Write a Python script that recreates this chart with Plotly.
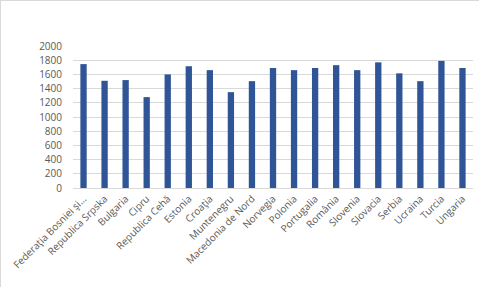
import plotly.graph_objects as go

categories = ["Federaţia Bosniei şi...", "Republica Srpska", "Bulgaria", "Cipru",
              "Republica Cehă", "Estonia", "Croaţia", "Muntenegru", "Macedonia de Nord",
              "Norvegia", "Polonia", "Portugalia", "România", "Slovenia", "Slovacia",
              "Serbia", "Ucraina", "Turcia", "Ungaria"]
values = [1745, 1510, 1520, 1280, 1600, 1715, 1660, 1350, 1505, 1690, 1660, 1690,
          1730, 1660, 1770, 1615, 1505, 1790, 1690]
y_ticks = [0, 200, 400, 600, 800, 1000, 1200, 1400, 1600, 1800, 2000]

W, H = 479, 287
L, R, T, B = 73, 6, 46, 99
pw = W - L - R
ph = H - T - B

fig = go.Figure(go.Bar(x=categories, y=values, marker_color="#2F5597",
                       marker_line_width=0))
fig.update_layout(
    width=W, height=H,
    margin=dict(l=L, r=R, t=T, b=B, pad=0),
    paper_bgcolor="white", plot_bgcolor="white",
    bargap=0.7, showlegend=False,
    font=dict(family="Open Sans, Liberation Sans, Arial", size=10, color="#595959"),
    xaxis=dict(tickangle=-45, showgrid=False, showline=True, linecolor="#D9D9D9",
               linewidth=1, ticks="", tickfont=dict(size=10, color="#595959")),
    yaxis=dict(range=[0, 2000], tickvals=y_ticks, showgrid=True, gridcolor="#D9D9D9",
               gridwidth=1, zeroline=False, showline=False, ticks="",
               ticklabelstandoff=10, tickfont=dict(size=10, color="#595959")),
    shapes=[
        dict(type="line", xref="paper", yref="paper", x0=-L / pw + 0.5 / pw,
             x1=-L / pw + 0.5 / pw, y0=1 + T / ph, y1=-B / ph,
             line=dict(color="#D9D9D9", width=1)),
        dict(type="line", xref="paper", yref="paper", x0=-L / pw, x1=1 + R / pw,
             y0=1 + T / ph - 0.5 / ph, y1=1 + T / ph - 0.5 / ph,
             line=dict(color="#D9D9D9", width=1)),
    ],
)
fig.write_html("out.html")
